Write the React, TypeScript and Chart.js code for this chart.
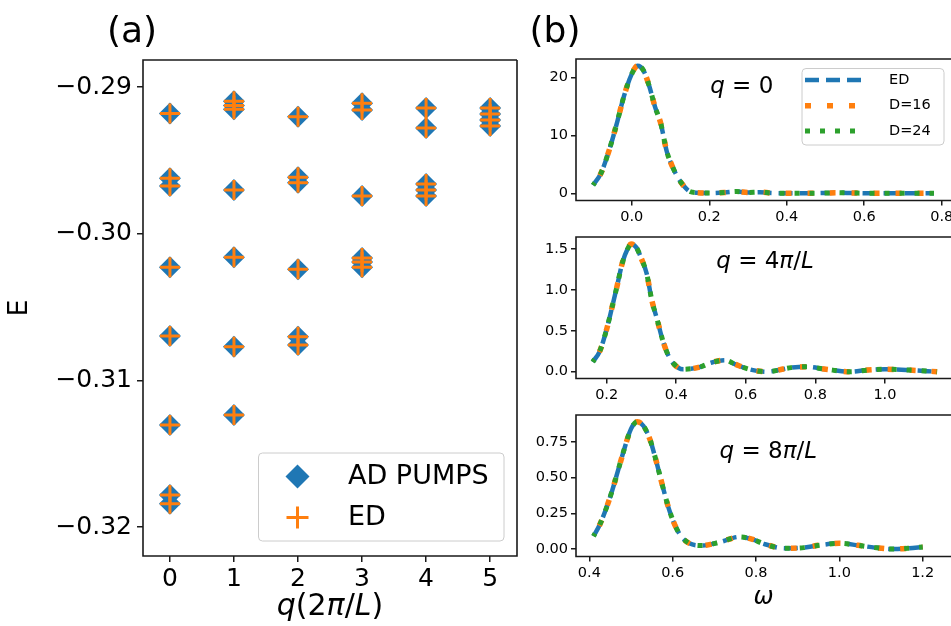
import React, { useEffect, useRef } from 'react';
import { Chart, registerables } from 'chart.js';

Chart.register(...registerables);

const FONT = "'DejaVu Sans', 'Liberation Sans', sans-serif";
const BLUE = '#1f77b4';
const ORANGE = '#ff7f0e';
const GREEN = '#2ca02c';
const INK = '#000';
const LINE = '#1a1a1a';

// ---------------- panel (a): energy levels E per momentum q ----------------
const Q_VALUES = [0, 1, 2, 3, 4, 5];
const LEVELS_Q0 = [-0.2918, -0.29621, -0.29673, -0.30228, -0.30696, -0.31303, -0.3178, -0.31841];
const LEVELS_Q1 = [-0.29095, -0.29125, -0.2915, -0.29701, -0.3016, -0.30769, -0.31235];
const LEVELS_Q2 = [-0.29201, -0.29614, -0.29651, -0.30241, -0.30701, -0.30757];
const LEVELS_Q3 = [-0.29109, -0.29155, -0.29742, -0.30164, -0.30192, -0.30227];
const LEVELS_Q4 = [-0.29142, -0.29278, -0.2966, -0.29701, -0.29742];
const LEVELS_Q5 = [-0.29142, -0.29183, -0.29224, -0.29264];
const A_X_TICKS = [0, 1, 2, 3, 4, 5];
const A_X_TICK_LABELS = ['0', '1', '2', '3', '4', '5'];
const A_Y_TICKS = [-0.29, -0.3, -0.31, -0.32];
const A_Y_TICK_LABELS = ['\u22120.29', '\u22120.30', '\u22120.31', '\u22120.32'];
const A_SERIES = ['AD PUMPS', 'ED'];

// ---------------- panel (b): spectral functions ----------------
const B_SERIES = ['ED', 'D=16', 'D=24'];

const OMEGA_Q0 = [-0.1, -0.08, -0.06, -0.04, -0.02, 0.0, 0.015, 0.03, 0.045, 0.06, 0.075, 0.09, 0.105, 0.12, 0.135, 0.15, 0.17, 0.2, 0.24, 0.27, 0.3, 0.33, 0.36, 0.4, 0.45, 0.5, 0.53, 0.57, 0.62, 0.68, 0.74, 0.78];
const SPEC_Q0 = [1.4, 3.4, 7.1, 11.7, 16.8, 20.6, 22.0, 21.2, 18.5, 14.9, 12.0, 7.3, 4.6, 2.6, 1.2, 0.3, 0.1, 0.05, 0.15, 0.3, 0.15, 0.2, 0.05, 0.0, 0.0, 0.05, 0.1, 0.05, 0.0, 0.0, 0.0, 0.0];

const OMEGA_Q4 = [0.16, 0.18, 0.2, 0.215, 0.23, 0.245, 0.26, 0.27, 0.285, 0.3, 0.315, 0.33, 0.345, 0.36, 0.375, 0.39, 0.42, 0.47, 0.5, 0.54, 0.57, 0.61, 0.66, 0.73, 0.775, 0.83, 0.9, 0.95, 1.0, 1.07, 1.15];
const SPEC_Q4 = [0.12, 0.25, 0.52, 0.78, 1.05, 1.33, 1.5, 1.56, 1.52, 1.38, 1.2, 0.87, 0.64, 0.4, 0.22, 0.11, 0.03, 0.06, 0.11, 0.14, 0.09, 0.03, 0.0, 0.05, 0.06, 0.03, 0.0, 0.02, 0.03, 0.02, 0.0];

const OMEGA_Q8 = [0.41, 0.425, 0.44, 0.455, 0.47, 0.485, 0.5, 0.515, 0.53, 0.545, 0.56, 0.575, 0.59, 0.605, 0.62, 0.64, 0.67, 0.715, 0.76, 0.79, 0.82, 0.87, 0.915, 0.955, 1.0, 1.045, 1.085, 1.13, 1.165, 1.2];
const SPEC_Q8 = [0.09, 0.17, 0.28, 0.41, 0.56, 0.71, 0.84, 0.89, 0.86, 0.77, 0.62, 0.45, 0.29, 0.17, 0.09, 0.04, 0.025, 0.05, 0.085, 0.07, 0.035, 0.005, 0.01, 0.028, 0.04, 0.026, 0.01, 0.0, 0.005, 0.015];

const B0_X_TICKS = [0, 0.2, 0.4, 0.6, 0.8];
const B0_X_LABELS = ['0.0', '0.2', '0.4', '0.6', '0.8'];
const B0_Y_TICKS = [0, 10, 20];
const B0_Y_LABELS = ['0', '10', '20'];
const B1_X_TICKS = [0.2, 0.4, 0.6, 0.8, 1.0];
const B1_X_LABELS = ['0.2', '0.4', '0.6', '0.8', '1.0'];
const B1_Y_TICKS = [0, 0.5, 1.0, 1.5];
const B1_Y_LABELS = ['0.0', '0.5', '1.0', '1.5'];
const B2_X_TICKS = [0.4, 0.6, 0.8, 1.0, 1.2];
const B2_X_LABELS = ['0.4', '0.6', '0.8', '1.0', '1.2'];
const B2_Y_TICKS = [0, 0.25, 0.5, 0.75];
const B2_Y_LABELS = ['0.00', '0.25', '0.50', '0.75'];

// rich text pieces: [text, italic]
type Seg = [string, boolean];
const A_XLABEL: Seg[] = [['q', true], ['(2', false], ['\u03c0', true], ['/', false], ['L', true], [')', false]];
const Q_LABEL_0: Seg[] = [['q', true], [' = 0', false]];
const Q_LABEL_4: Seg[] = [['q', true], [' = 4', false], ['\u03c0', true], ['/', false], ['L', true]];
const Q_LABEL_8: Seg[] = [['q', true], [' = 8', false], ['\u03c0', true], ['/', false], ['L', true]];

// ---------------- helpers ----------------
function drawRich(ctx: CanvasRenderingContext2D, segs: Seg[], cx: number, cy: number, size: number) {
  ctx.save();
  ctx.textBaseline = 'middle';
  ctx.textAlign = 'left';
  ctx.fillStyle = INK;
  const fonts = segs.map(([, it]) => `${it ? 'italic ' : ''}${size}px ${FONT}`);
  const widths = segs.map(([t], i) => {
    ctx.font = fonts[i];
    return ctx.measureText(t).width;
  });
  let x = cx - widths.reduce((a, b) => a + b, 0) / 2;
  segs.forEach(([t], i) => {
    ctx.font = fonts[i];
    ctx.fillText(t, x, cy);
    x += widths[i];
  });
  ctx.restore();
}

function legendFrame(ctx: CanvasRenderingContext2D, x: number, y: number, w: number, h: number) {
  ctx.beginPath();
  if ((ctx as any).roundRect) (ctx as any).roundRect(x, y, w, h, 4);
  else ctx.rect(x, y, w, h);
  ctx.fillStyle = 'rgba(255,255,255,0.8)';
  ctx.fill();
  ctx.strokeStyle = '#cccccc';
  ctx.lineWidth = 1;
  ctx.stroke();
}

function makeFrame(drawRight: boolean) {
  return {
    id: 'frame',
    afterDraw(chart: any) {
      const { ctx, chartArea: a } = chart;
      ctx.save();
      ctx.strokeStyle = LINE;
      ctx.lineWidth = 1.6;
      ctx.beginPath();
      ctx.moveTo(a.right + (drawRight ? 0 : 5), a.top);
      ctx.lineTo(a.left, a.top);
      ctx.lineTo(a.left, a.bottom);
      ctx.lineTo(a.right + (drawRight ? 0 : 5), a.bottom);
      if (drawRight) {
        ctx.lineTo(a.right, a.top);
      }
      ctx.stroke();
      ctx.restore();
    },
  };
}

function axis(opts: {
  horizontal: boolean;
  min: number;
  max: number;
  ticks: number[];
  labels: string[];
  size: number;
  fontSize: number;
  tickLength: number;
  padding: number;
  title?: any;
}) {
  const { horizontal, min, max, ticks, labels, size, fontSize, tickLength, padding, title } = opts;
  return {
    type: 'linear',
    position: horizontal ? 'bottom' : 'left',
    min,
    max,
    afterBuildTicks: (s: any) => {
      s.ticks = ticks.map((v) => ({ value: v }));
    },
    afterFit: (s: any) => {
      if (horizontal) s.height = size;
      else s.width = size;
      s.paddingLeft = 0;
      s.paddingRight = 0;
      s.paddingTop = 0;
      s.paddingBottom = 0;
    },
    ticks: {
      callback: (_v: any, i: number) => labels[i],
      font: { family: FONT, size: fontSize },
      color: INK,
      padding,
      autoSkip: false,
      maxRotation: 0,
      minRotation: 0,
    },
    grid: {
      display: true,
      drawOnChartArea: false,
      drawTicks: true,
      tickLength,
      color: LINE,
      lineWidth: 1.5,
    },
    border: { display: false },
    title: title || { display: false },
  };
}

// ---------------- panel (a) config ----------------
function configA() {
  const levels = [LEVELS_Q0, LEVELS_Q1, LEVELS_Q2, LEVELS_Q3, LEVELS_Q4, LEVELS_Q5];
  const pts = () => levels.flatMap((lv, i) => lv.map((e) => ({ x: Q_VALUES[i], y: e })));
  const textA = {
    id: 'textA',
    afterDraw(chart: any) {
      const ctx = chart.ctx;
      ctx.save();
      ctx.fillStyle = INK;
      ctx.font = `36px ${FONT}`;
      ctx.textAlign = 'center';
      ctx.textBaseline = 'middle';
      ctx.fillText('(a)', 132, 33);
      ctx.restore();
      drawRich(ctx, A_XLABEL, 330, 607, 30);
    },
  };
  const legendA = {
    id: 'legendA',
    afterDraw(chart: any) {
      const { ctx } = chart;
      const [ad, ed] = chart.data.datasets;
      ctx.save();
      legendFrame(ctx, 258.5, 453, 245.5, 88);
      const cx = 297.5;
      const cy = 476.5;
      const r = 12;
      ctx.fillStyle = ad.backgroundColor;
      ctx.beginPath();
      ctx.moveTo(cx, cy - r);
      ctx.lineTo(cx + r, cy);
      ctx.lineTo(cx, cy + r);
      ctx.lineTo(cx - r, cy);
      ctx.closePath();
      ctx.fill();
      const py = 517.5;
      const pr = 11;
      ctx.strokeStyle = ed.borderColor;
      ctx.lineWidth = 3;
      ctx.beginPath();
      ctx.moveTo(cx - pr, py);
      ctx.lineTo(cx + pr, py);
      ctx.moveTo(cx, py - pr);
      ctx.lineTo(cx, py + pr);
      ctx.stroke();
      ctx.fillStyle = INK;
      ctx.font = `27px ${FONT}`;
      ctx.textAlign = 'left';
      ctx.textBaseline = 'middle';
      ctx.fillText(ad.label, 348, cy);
      ctx.fillText(ed.label, 348, py);
      ctx.restore();
    },
  };
  return {
    type: 'scatter',
    data: {
      datasets: [
        {
          label: A_SERIES[0],
          data: pts(),
          order: 2,
          pointStyle: 'rectRot',
          pointRadius: 11,
          backgroundColor: BLUE,
          borderColor: BLUE,
          borderWidth: 0,
        },
        {
          label: A_SERIES[1],
          data: pts(),
          order: 1,
          pointStyle: 'cross',
          pointRadius: 10,
          backgroundColor: ORANGE,
          borderColor: ORANGE,
          borderWidth: 3,
        },
      ],
    },
    options: {
      responsive: false,
      animation: false,
      events: [],
      layout: { padding: { top: 60, right: 12, left: 0, bottom: 0 } },
      plugins: { legend: { display: false }, tooltip: { enabled: false } },
      scales: {
        x: axis({
          horizontal: true, min: -0.4206, max: 5.42, ticks: A_X_TICKS, labels: A_X_TICK_LABELS,
          size: 70, fontSize: 25, tickLength: 6, padding: 2,
        }),
        y: axis({
          horizontal: false, min: -0.321964, max: -0.288146, ticks: A_Y_TICKS, labels: A_Y_TICK_LABELS,
          size: 143, fontSize: 25, tickLength: 6, padding: 5,
          title: { display: true, text: 'E', font: { family: FONT, size: 27 }, color: INK, padding: { top: 4, bottom: 0 } },
        }),
      },
    },
    plugins: [makeFrame(true), textA, legendA],
  };
}

// ---------------- panel (b) configs ----------------
const B_STYLES = [
  { color: BLUE, dash: [14, 7], offset: 0, width: 4.5, order: 3 },
  { color: ORANGE, dash: [6, 16], offset: 10, width: 5.5, order: 2 },
  { color: GREEN, dash: [5, 10], offset: 2, width: 5, order: 1 },
];

const PANELS = [
  {
    omega: OMEGA_Q0, spec: SPEC_Q0, label: Q_LABEL_0, labelPos: [221.7, 86.7],
    xr: [-0.144, 0.824], yr: [-1.24, 23.16],
    xt: B0_X_TICKS, xl: B0_X_LABELS, yt: B0_Y_TICKS, yl: B0_Y_LABELS,
  },
  {
    omega: OMEGA_Q4, spec: SPEC_Q4, label: Q_LABEL_4, labelPos: [245, 33.7],
    xr: [0.1118, 1.19], yr: [-0.083, 1.647],
    xt: B1_X_TICKS, xl: B1_X_LABELS, yt: B1_Y_TICKS, yl: B1_Y_LABELS,
  },
  {
    omega: OMEGA_Q8, spec: SPEC_Q8, label: Q_LABEL_8, labelPos: [248.3, 45.7],
    xr: [0.368, 1.268], yr: [-0.052, 0.937],
    xt: B2_X_TICKS, xl: B2_X_LABELS, yt: B2_Y_TICKS, yl: B2_Y_LABELS,
  },
];

const B_LAYOUT = [
  { top: 0, height: 228, padTop: 59, xH: 27.5 },
  { top: 228, height: 178, padTop: 9, xH: 27.5 },
  { top: 406, height: 206, padTop: 9, xH: 55.5 },
];

function configB(idx: number) {
  const p = PANELS[idx];
  const L = B_LAYOUT[idx];
  const datasets = B_SERIES.map((label, k) => ({
    label,
    data: p.omega.map((w, i) => ({ x: w, y: p.spec[i] })),
    order: B_STYLES[k].order,
    borderColor: B_STYLES[k].color,
    backgroundColor: B_STYLES[k].color,
    borderDash: B_STYLES[k].dash,
    borderDashOffset: B_STYLES[k].offset,
    borderWidth: B_STYLES[k].width,
    borderCapStyle: 'butt',
    pointRadius: 0,
    fill: false,
    cubicInterpolationMode: 'monotone',
  }));
  const textB = {
    id: 'textB',
    afterDraw(chart: any) {
      const ctx = chart.ctx;
      drawRich(ctx, p.label, p.labelPos[0], p.labelPos[1], 23);
      if (idx === 0) {
        ctx.save();
        ctx.fillStyle = INK;
        ctx.font = `36px ${FONT}`;
        ctx.textAlign = 'center';
        ctx.textBaseline = 'middle';
        ctx.fillText('(b)', 35, 33);
        ctx.restore();
        // legend
        legendFrame(ctx, 282, 68.5, 142, 76.5);
        const ys = [80, 105.7, 131];
        chart.data.datasets.forEach((ds: any, k: number) => {
          ctx.save();
          ctx.strokeStyle = ds.borderColor;
          ctx.lineWidth = ds.borderWidth;
          ctx.setLineDash(ds.borderDash);
          ctx.lineDashOffset = 0;
          ctx.beginPath();
          ctx.moveTo(285, ys[k]);
          ctx.lineTo(344, ys[k]);
          ctx.stroke();
          ctx.fillStyle = INK;
          ctx.font = `14.5px ${FONT}`;
          ctx.textAlign = 'left';
          ctx.textBaseline = 'middle';
          ctx.fillText(ds.label, 369, ys[k]);
          ctx.restore();
        });
      }
    },
  };
  return {
    type: 'line',
    data: { datasets },
    options: {
      responsive: false,
      animation: false,
      events: [],
      layout: { padding: { top: L.padTop, right: 0, left: 0, bottom: 0 } },
      plugins: { legend: { display: false }, tooltip: { enabled: false } },
      scales: {
        x: axis({
          horizontal: true, min: p.xr[0], max: p.xr[1], ticks: p.xt, labels: p.xl,
          size: L.xH, fontSize: 14.5, tickLength: 5, padding: 3,
          title: idx === 2
            ? { display: true, text: '\u03c9', font: { family: FONT, size: 24, style: 'italic' }, color: INK, padding: { top: 0, bottom: 0 } }
            : undefined,
        }),
        y: axis({
          horizontal: false, min: p.yr[0], max: p.yr[1], ticks: p.yt, labels: p.yl,
          size: 56, fontSize: 14.5, tickLength: 5, padding: 3,
        }),
      },
    },
    plugins: [makeFrame(false), textB],
  };
}

export default function App() {
  const aRef = useRef<HTMLCanvasElement>(null);
  const b0 = useRef<HTMLCanvasElement>(null);
  const b1 = useRef<HTMLCanvasElement>(null);
  const b2 = useRef<HTMLCanvasElement>(null);

  useEffect(() => {
    const charts: Chart[] = [];
    if (aRef.current) charts.push(new Chart(aRef.current, configA() as any));
    [b0, b1, b2].forEach((r, i) => {
      if (r.current) charts.push(new Chart(r.current, configB(i) as any));
    });
    return () => charts.forEach((c) => c.destroy());
  }, []);

  const bRefs = [b0, b1, b2];
  return (
    <div style={{ position: 'absolute', left: 0, top: 0, width: 951, height: 626, background: '#fff', overflow: 'hidden' }}>
      <canvas ref={aRef} width={530} height={626} style={{ position: 'absolute', left: 0, top: 0 }} />
      {B_LAYOUT.map((L, i) => (
        <canvas
          key={i}
          ref={bRefs[i]}
          width={431}
          height={L.height}
          style={{ position: 'absolute', left: 520, top: L.top }}
        />
      ))}
    </div>
  );
}
